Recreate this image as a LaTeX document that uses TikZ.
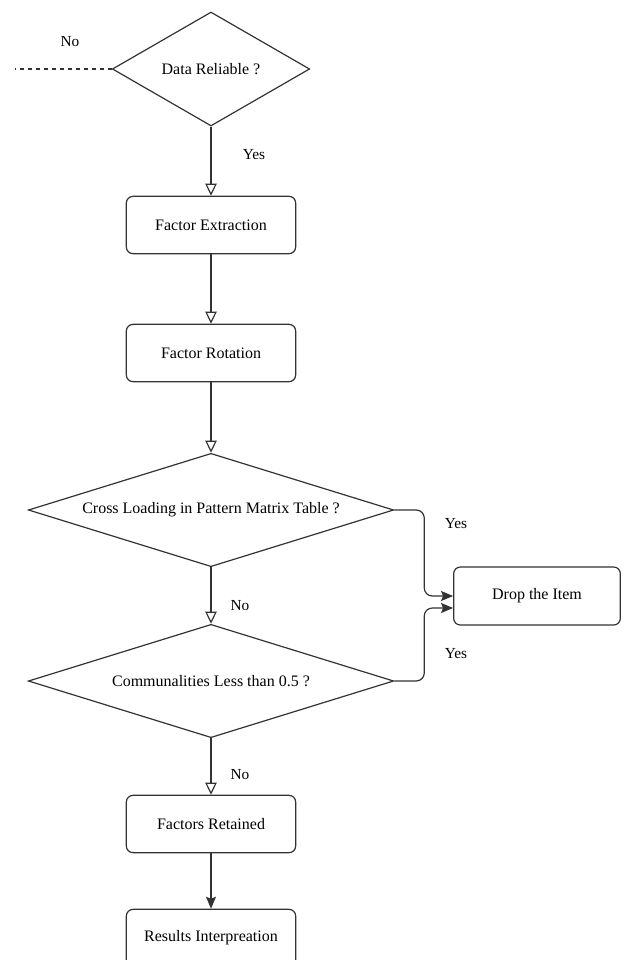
\documentclass[tikz,border=0pt]{standalone}
\usepackage{fontspec}
\setmainfont{Liberation Serif}
\usetikzlibrary{shapes.geometric,arrows.meta}
\definecolor{flowline}{RGB}{51,51,51}

\begin{document}
\begin{tikzpicture}[x=0.75pt,y=-0.75pt,
  font=\rmfamily\fontsize{12}{14}\selectfont,
  line/.style={draw=flowline, line width=0.9pt},
  stepbox/.style={line, rounded corners=5pt, fill=white,
    minimum width=127pt, minimum height=43pt, inner sep=0pt},
  decision/.style={diamond, line, fill=white, inner sep=0pt},
  openarrow/.style={line, -{Triangle[open, length=9pt, width=8.5pt, fill=white]}},
  fullarrow/.style={line, -{Stealth[length=9pt, width=7.5pt, inset=1.5pt]}},
  lbl/.style={font=\rmfamily\fontsize{11.5}{13}\selectfont}]
\useasboundingbox (0,0) rectangle (624,960);

% decisions
\node[decision, aspect=1.73, minimum width=148pt, minimum height=85.5pt] (reliable) at (211,69) {Data Reliable ?};
\node[decision, aspect=3.22, minimum width=274pt, minimum height=85pt] (cross) at (211,510) {Cross Loading in Pattern Matrix Table ?};
\node[decision, aspect=3.22, minimum width=274pt, minimum height=85pt] (commun) at (211,681) {Communalities Less than 0.5 ?};

% steps
\node[stepbox] (extract) at (211,225) {Factor Extraction};
\node[stepbox] (rotate) at (211,353) {Factor Rotation};
\node[stepbox] (retain) at (211,824) {Factors Retained};
\node[stepbox] (results) at (211,938) {Results Interpreation};
\node[stepbox, minimum width=125pt, minimum height=43.5pt] (drop) at (537,596) {Drop the Item};

% main flow
\coordinate (noend) at (15,69);
\draw[line, dashed] (reliable.west) -- (noend);
\node[lbl] (nolbl) at (70,42) {No};
\draw[openarrow] (reliable.south) -- (extract.north);
\node[lbl] (yeslbl) at (254,155) {Yes};
\draw[openarrow] (extract.south) -- (rotate.north);
\draw[openarrow] (rotate.south) -- (cross.north);
\draw[openarrow] (cross.south) -- (commun.north);
\node[lbl] (nolbla) at (240,606) {No};
\draw[openarrow] (commun.south) -- (retain.north);
\node[lbl] (nolblb) at (240,775) {No};
\draw[fullarrow] (retain.south) -- (results.north);

% to drop
\draw[fullarrow, rounded corners=6pt] (cross.east) -- ++(30,0) |- (drop.west);
\node[lbl] (yeslbla) at (456,524) {Yes};
\draw[fullarrow, rounded corners=6pt] (commun.east) -- ++(30,0) |- ([yshift=-9pt]drop.west);
\node[lbl] (yeslblb) at (456,654) {Yes};
\end{tikzpicture}
\end{document}
